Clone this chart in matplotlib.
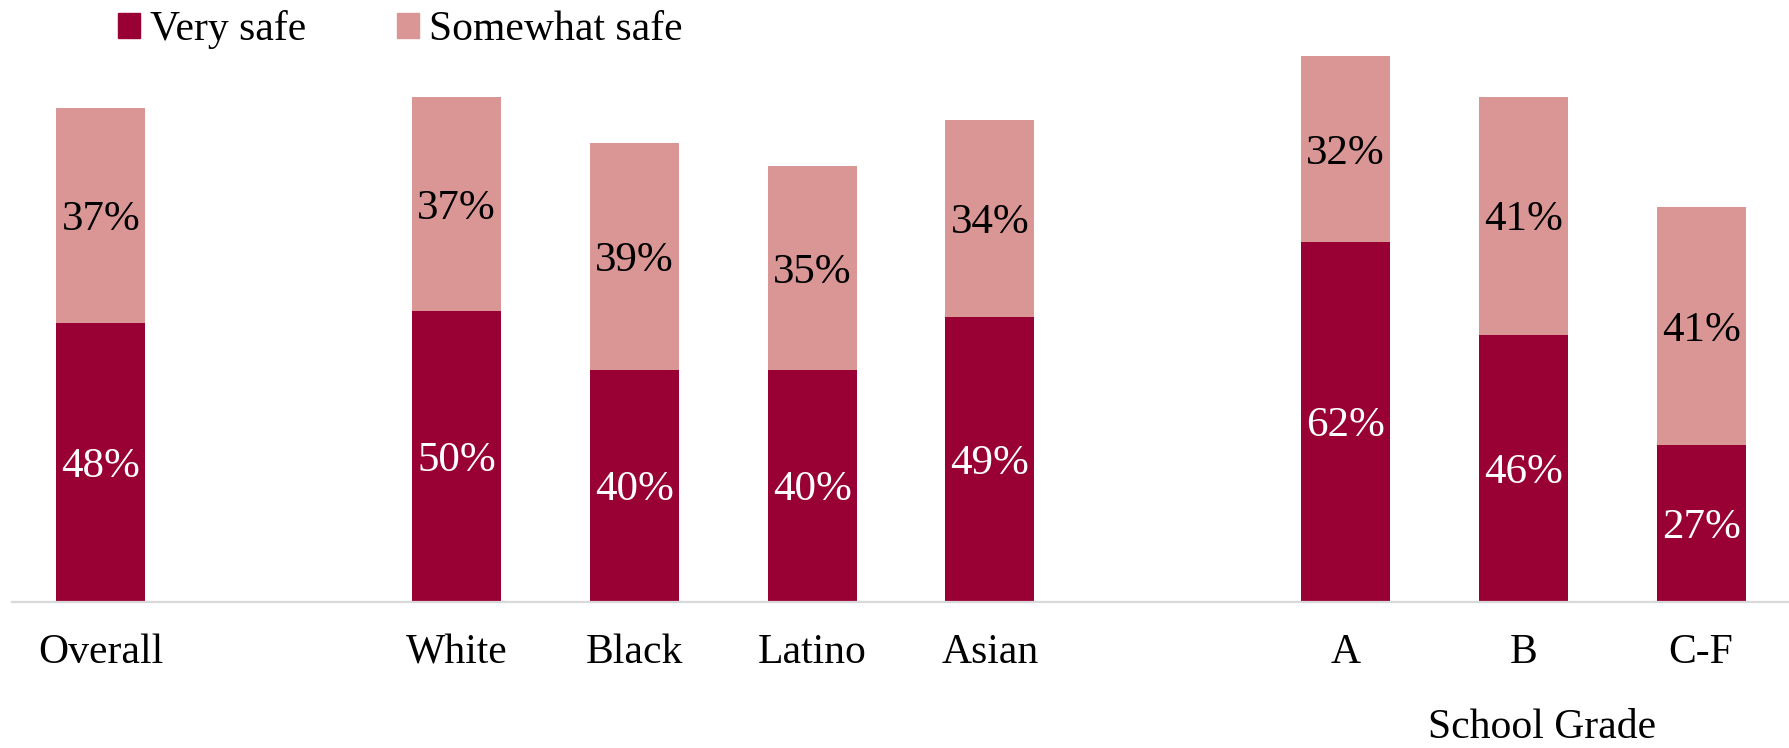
import matplotlib
matplotlib.use("Agg")
import matplotlib.pyplot as plt
from matplotlib.patches import Patch

categories = ["Overall", "White", "Black", "Latino", "Asian", "A", "B", "C-F"]
positions = [0, 2, 3, 4, 5, 7, 8, 9]
very_safe = [48, 50, 40, 40, 49, 62, 46, 27]
somewhat_safe = [37, 37, 39, 35, 34, 32, 41, 41]
series_names = ["Very safe", "Somewhat safe"]
group_label = "School Grade"

c_dark = "#990033"
c_light = "#D99694"

plt.rcParams["font.family"] = ["Liberation Serif", "DejaVu Serif"]
FS = 30

W, H = 1790, 748
fig = plt.figure(figsize=(W / 100, H / 100), dpi=100)
base = 601.7
ax = fig.add_axes([12 / W, (H - base) / H, 1 - 12 / W, 580.5 / H])

ax.bar(positions, very_safe, width=0.5, color=c_dark, label=series_names[0])
ax.bar(positions, somewhat_safe, width=0.5, bottom=very_safe, color=c_light,
       label=series_names[1])

for x, v, s in zip(positions, very_safe, somewhat_safe):
    ax.text(x, v / 2, f"{v}%", ha="center", va="center_baseline", color="white", fontsize=31)
    ax.text(x, v + s / 2, f"{s}%", ha="center", va="center_baseline", color="black", fontsize=31)

ax.set_xlim(-0.5, 9.5)
ax.set_ylim(0, 100)
ax.set_xticks(positions)
ax.set_xticklabels(categories, fontsize=FS)
ax.tick_params(axis="x", length=0, pad=23)
ax.set_yticks([])
for sp in ["top", "right", "left"]:
    ax.spines[sp].set_visible(False)
ax.spines["bottom"].set_color("#d9d9d9")
ax.spines["bottom"].set_linewidth(1.6)

fig.text(1542 / W, 1 / H, group_label, ha="center", va="bottom", fontsize=FS)

handles = [Patch(color=c_dark), Patch(color=c_light)]
fig.legend(handles, series_names, loc="upper left", bbox_to_anchor=(118 / W, 1 - 10 / H),
           ncol=2, frameon=False, fontsize=FS, handlelength=0.53, handleheight=0.53,
           handletextpad=0.24, columnspacing=2.18, borderpad=0, borderaxespad=0)

fig.savefig("out.png", dpi=100)
